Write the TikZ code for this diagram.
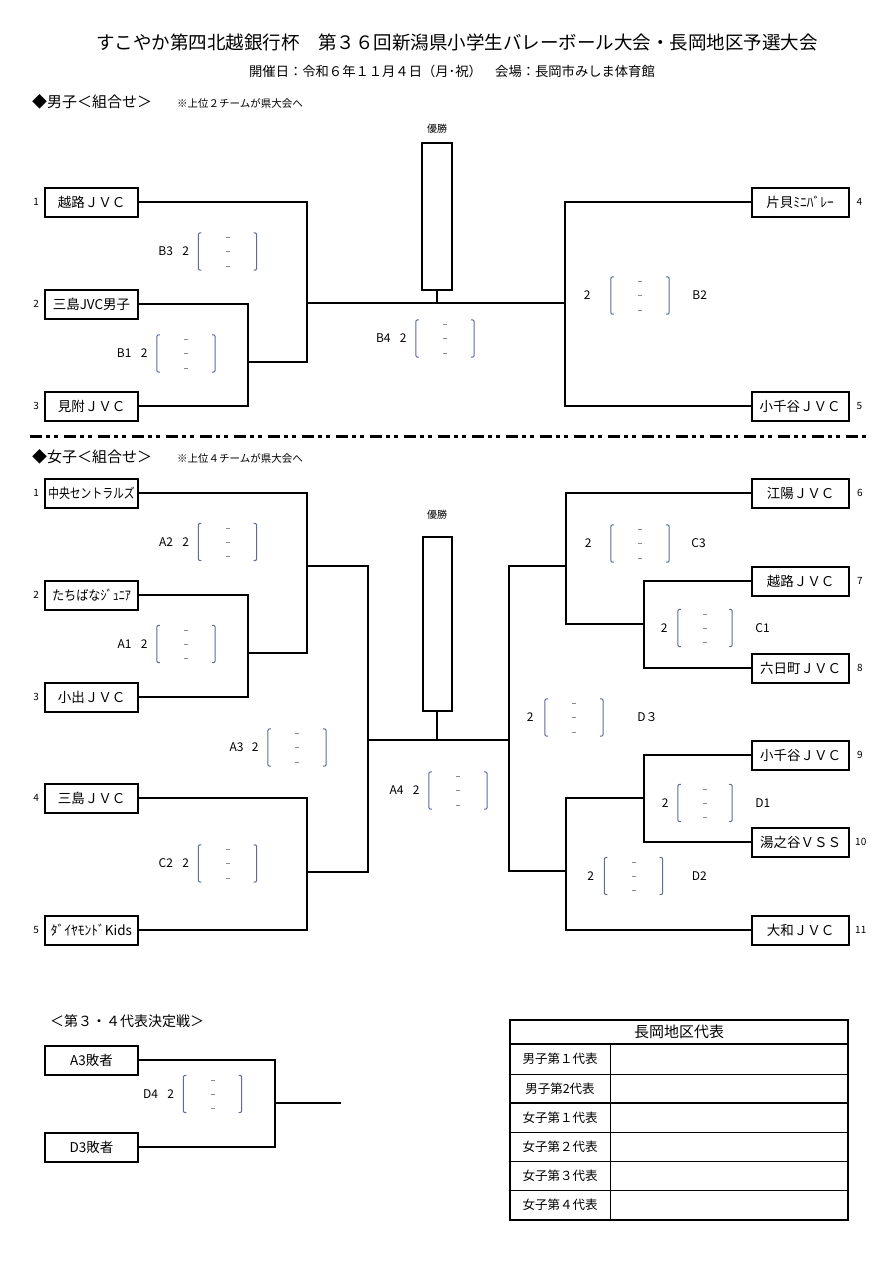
\documentclass[tikz,border=0pt]{standalone}
\usepackage{fontspec}
\setmainfont{Noto Sans CJK JP}
\usetikzlibrary{positioning,calc}
\definecolor{scoreblue}{HTML}{5A6B9C}
\definecolor{markgray}{HTML}{8C8C8C}
\tikzset{
  teambox/.style={draw=black,line width=2pt,fill=white,minimum width=93pt,minimum height=29pt,inner sep=0pt,font=\fontsize{13.5}{14}\selectfont},
  rteambox/.style={teambox,minimum width=97pt},
  champbox/.style={draw=black,line width=2pt,inner sep=0pt},
  seed/.style={inner sep=0pt,font=\fontsize{10}{11}\selectfont},
  scorebox/.style={minimum width=58pt,minimum height=37pt,inner sep=0pt},
  matchlbl/.style={inner sep=0pt,font=\fontsize{12}{13}\selectfont},
  wire/.style={draw=black,line width=2pt},
  parline/.style={draw=scoreblue,line width=1pt,rounded corners=2pt},
  markline/.style={draw=markgray,line width=0.8pt},
  heading/.style={inner sep=0pt,anchor=west,font=\fontsize{15}{16}\selectfont},
  remark/.style={inner sep=0pt,anchor=west,font=\fontsize{10.5}{11}\selectfont},
  winlbl/.style={inner sep=0pt,font=\fontsize{10}{11}\selectfont},
  tabtxt/.style={inner sep=0pt,font=\fontsize{12.5}{13}\selectfont},
  divider/.style={line width=3pt,dash pattern=on 12pt off 4pt on 4pt off 4pt on 4pt off 6pt}
}
\newcommand{\scoremarks}[1]{%
  \draw[parline] ([xshift=3pt]#1.north west) -- (#1.north west) -- (#1.south west) -- ([xshift=3pt]#1.south west);
  \draw[parline] ([xshift=-3pt]#1.north east) -- (#1.north east) -- (#1.south east) -- ([xshift=-3pt]#1.south east);
  \draw[markline] ([shift={(-2pt,-5pt)}]#1.north) -- ++(4pt,0pt);
  \draw[markline] ([xshift=-2pt]#1.center) -- ++(4pt,0pt);
  \draw[markline] ([shift={(-2pt,4pt)}]#1.south) -- ++(4pt,0pt);
}

\begin{document}
\begin{tikzpicture}[x=1pt,y=-1pt]
  \useasboundingbox (0,0) rectangle (894,1280);

  % titles
  \node[inner sep=0pt,font=\fontsize{18.5}{20}\selectfont] (title) at (457,42) {すこやか第四北越銀行杯　第３６回新潟県小学生バレーボール大会・長岡地区予選大会};
  \node[inner sep=0pt,font=\fontsize{13.3}{14}\selectfont] (subtitle) at (452,71) {開催日：令和６年１１月４日（月･祝）　会場：長岡市みしま体育館};

  % boys
  \node[heading] (boyshead) at (32,102) {◆男子＜組合せ＞};
  \node[remark] (boysnote) at (177,103) {※上位２チームが県大会へ};

  \node[teambox] (m1) at (91.5,202) {越路ＪＶＣ};
  \node[teambox] (m2) at (91.5,304) {三島JVC男子};
  \node[teambox] (m3) at (91.5,406) {見附ＪＶＣ};
  \node[rteambox] (m4) at (800,202) {片貝ﾐﾆﾊﾞﾚｰ};
  \node[rteambox] (m5) at (800,406) {小千谷ＪＶＣ};
  \node[seed,left=5pt of m1] {1};
  \node[seed,left=5pt of m2] {2};
  \node[seed,left=5pt of m3] {3};
  \node[seed,right=7pt of m4] {4};
  \node[seed,right=7pt of m5] {5};

  \node[champbox,minimum width=30pt,minimum height=147pt] (champM) at (437,216.5) {};
  \node[winlbl,above=8pt of champM] {優勝};

  \coordinate (jB1) at (248,362);
  \coordinate (jB3) at (307,303);
  \coordinate (jB2) at (565,303);
  \coordinate (finM) at (437,303);
  \draw[wire] (m2.east) -| (jB1) |- (m3.east);
  \draw[wire] (m1.east) -| (jB3) |- (jB1);
  \draw[wire] (m4.west) -| (jB2) |- (m5.west);
  \draw[wire] (jB3) -- (jB2);
  \draw[wire] (champM.south) -- (finM);

  \node[scorebox] (sB3) at (227.5,251.5) {};
  \node[scorebox] (sB1) at (186,353.5) {};
  \node[scorebox] (sB4) at (445,338.5) {};
  \node[scorebox] (sB2) at (640,295.5) {};
  \scoremarks{sB3}
  \scoremarks{sB1}
  \scoremarks{sB4}
  \scoremarks{sB2}
  \node[matchlbl,left=9pt of sB3.west] (gB3) {2};
  \node[matchlbl,left=9pt of gB3] {B3};
  \node[matchlbl,left=9pt of sB1.west] (gB1) {2};
  \node[matchlbl,left=9pt of gB1] {B1};
  \node[matchlbl,left=9pt of sB4.west] (gB4) {2};
  \node[matchlbl,left=9pt of gB4] {B4};
  \node[matchlbl,left=20pt of sB2.west] {2};
  \node[matchlbl,right=23pt of sB2.east] {B2};

  \draw[divider] (30,436) -- (868,436);

  % girls
  \node[heading] (girlshead) at (32,457) {◆女子＜組合せ＞};
  \node[remark] (girlsnote) at (177,458) {※上位４チームが県大会へ};

  \node[teambox] (w1) at (91.5,493) {\scalebox{0.8}[1]{中央セントラルズ}};
  \node[teambox] (w2) at (91.5,595) {\scalebox{0.9}[1]{たちばなｼﾞｭﾆｱ}};
  \node[teambox] (w3) at (91.5,697) {小出ＪＶＣ};
  \node[teambox] (w4) at (91.5,798) {三島ＪＶＣ};
  \node[teambox] (w5) at (91.5,930) {ﾀﾞｲﾔﾓﾝﾄﾞKids};
  \node[rteambox] (w6) at (800.5,493) {江陽ＪＶＣ};
  \node[rteambox] (w7) at (800.5,581) {越路ＪＶＣ};
  \node[rteambox] (w8) at (800.5,668) {六日町ＪＶＣ};
  \node[rteambox] (w9) at (800.5,755) {小千谷ＪＶＣ};
  \node[rteambox] (w10) at (800.5,842) {湯之谷ＶＳＳ};
  \node[rteambox] (w11) at (800.5,930) {大和ＪＶＣ};
  \node[seed,left=5pt of w1] {1};
  \node[seed,left=5pt of w2] {2};
  \node[seed,left=5pt of w3] {3};
  \node[seed,left=5pt of w4] {4};
  \node[seed,left=5pt of w5] {5};
  \node[seed,right=7pt of w6] {6};
  \node[seed,right=7pt of w7] {7};
  \node[seed,right=7pt of w8] {8};
  \node[seed,right=7pt of w9] {9};
  \node[seed,right=5pt of w10] {10};
  \node[seed,right=5pt of w11] {11};

  \node[champbox,minimum width=29pt,minimum height=174pt] (champW) at (437,624) {};
  \node[winlbl,above=16pt of champW] {優勝};

  \coordinate (jA1) at (248,653);
  \coordinate (jA2) at (307,566);
  \coordinate (jC2) at (307,872);
  \coordinate (jA3) at (368,740);
  \coordinate (jD3) at (509,740);
  \coordinate (finW) at (437,740);
  \coordinate (jC1) at (644,624);
  \coordinate (jC3) at (566,566);
  \coordinate (jD1) at (644,798);
  \coordinate (jD2) at (566,871);
  \draw[wire] (w2.east) -| (jA1) |- (w3.east);
  \draw[wire] (w1.east) -| (jA2) |- (jA1);
  \draw[wire] (w4.east) -| (jC2) |- (w5.east);
  \draw[wire] (jA2) -| (jA3) |- (jC2);
  \draw[wire] (jA3) -- (jD3);
  \draw[wire] (w7.west) -| (jC1) |- (w8.west);
  \draw[wire] (w6.west) -| (jC3) |- (jC1);
  \draw[wire] (w9.west) -| (jD1) |- (w10.west);
  \draw[wire] (jD1) -| (jD2) |- (w11.west);
  \draw[wire] (jC3) -| (jD3) |- (jD2);
  \draw[wire] (champW.south) -- (finW);

  \node[scorebox] (sA2) at (227.5,542) {};
  \node[scorebox] (sA1) at (186,644) {};
  \node[scorebox] (sA3) at (297,747.5) {};
  \node[scorebox] (sA4) at (458,790.5) {};
  \node[scorebox] (sC2) at (227.5,863.5) {};
  \node[scorebox] (sC3) at (640,543.5) {};
  \node[scorebox,minimum width=54pt] (sC1) at (705,628) {};
  \node[scorebox] (sD3) at (574,717.5) {};
  \node[scorebox,minimum width=54pt] (sD1) at (705,803) {};
  \node[scorebox] (sD2) at (633.5,876) {};
  \foreach \s in {sA2,sA1,sA3,sA4,sC2,sC3,sC1,sD3,sD1,sD2}
    {\scoremarks{\s}}
  \node[matchlbl,left=9pt of sA2.west] (gA2) {2};
  \node[matchlbl,left=9pt of gA2] {A2};
  \node[matchlbl,left=9pt of sA1.west] (gA1) {2};
  \node[matchlbl,left=9pt of gA1] {A1};
  \node[matchlbl,left=9pt of sA3.west] (gA3) {2};
  \node[matchlbl,left=8pt of gA3] {A3};
  \node[matchlbl,left=9pt of sA4.west] (gA4) {2};
  \node[matchlbl,left=9pt of gA4] {A4};
  \node[matchlbl,left=9pt of sC2.west] (gC2) {2};
  \node[matchlbl,left=9pt of gC2] {C2};
  \node[matchlbl,left=19pt of sC3.west] {2};
  \node[matchlbl,right=22pt of sC3.east] {C3};
  \node[matchlbl,left=10pt of sC1.west] {2};
  \node[matchlbl,right=23pt of sC1.east] {C1};
  \node[matchlbl,left=11pt of sD3.west] {2};
  \node[matchlbl,right=34pt of sD3.east] {D３};
  \node[matchlbl,left=9pt of sD1.west] {2};
  \node[matchlbl,right=23pt of sD1.east] {D1};
  \node[matchlbl,left=10pt of sD2.west] {2};
  \node[matchlbl,right=29pt of sD2.east] {D2};

  % 3rd/4th place playoff
  \node[heading,font=\fontsize{14}{15}\selectfont] (thirdhead) at (50,1021) {＜第３・４代表決定戦＞};
  \node[teambox] (t1) at (91.5,1060) {A3敗者};
  \node[teambox] (t2) at (91.5,1147) {D3敗者};
  \coordinate (jD4) at (275,1103);
  \coordinate (endD4) at (341,1103);
  \draw[wire] (t1.east) -| (jD4) |- (t2.east);
  \draw[wire] (jD4) -- (endD4);
  \node[scorebox] (sD4) at (212.5,1094) {};
  \scoremarks{sD4}
  \node[matchlbl,left=9pt of sD4.west] (gD4) {2};
  \node[matchlbl,left=9pt of gD4] {D4};

  % representatives table
  \draw[line width=0.8pt] (510,1074) -- (848,1074);
  \draw[line width=0.8pt] (510,1132) -- (848,1132);
  \draw[line width=0.8pt] (510,1161) -- (848,1161);
  \draw[line width=0.8pt] (510,1190) -- (848,1190);
  \draw[line width=2.2pt] (510,1044) -- (848,1044);
  \draw[line width=2.2pt] (510,1103) -- (848,1103);
  \draw[line width=1pt] (610,1044) -- (610,1220);
  \draw[line width=2.5pt] (510,1020) rectangle (848,1220);
  \node[tabtxt,font=\fontsize{15}{16}\selectfont] (tabhead) at (679,1032) {長岡地区代表};
  \node[tabtxt] at (560,1059) {男子第１代表};
  \node[tabtxt] at (560,1088.5) {男子第2代表};
  \node[tabtxt] at (560,1117.5) {女子第１代表};
  \node[tabtxt] at (560,1146.5) {女子第２代表};
  \node[tabtxt] at (560,1175.5) {女子第３代表};
  \node[tabtxt] at (560,1205) {女子第４代表};
\end{tikzpicture}
\end{document}
